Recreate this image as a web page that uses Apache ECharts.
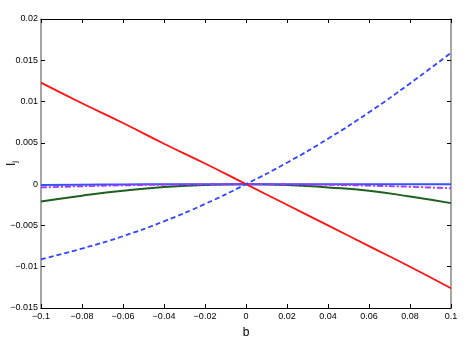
<!DOCTYPE html>
<html>
<head>
<meta charset="utf-8">
<script src="https://cdn.jsdelivr.net/npm/echarts@6/dist/echarts.min.js"></script>
<style>
html, body { margin: 0; padding: 0; background: #fff; }
#main { width: 469px; height: 340px; }
</style>
</head>
<body>
<div id="main"></div>
<script>
// b values
var bVals = [ -0.1, -0.08, -0.06, -0.04, -0.02, 0, 0.02, 0.04, 0.06, 0.08, 0.1 ];
// I_j curves
var redLine = [ 0.0123, 0.0098, 0.0074, 0.0049, 0.0025, 0, -0.0025, -0.0050, -0.0075, -0.0100, -0.0126 ];
var blueDash = [ -0.0091, -0.0078, -0.0063, -0.0045, -0.0024, 0, 0.0026, 0.0055, 0.0087, 0.0122, 0.0159 ];
var greenLine = [ -0.0021, -0.0014, -0.0008, -0.00035, -0.0001, 0, -0.0001, -0.0004, -0.0008, -0.0015, -0.0023 ];
var blueLine = [ -0.0001, -0.00006, -0.00003, -0.00001, 0, 0, 0, 0, 0, 0, 0 ];
var magentaDashDot = [ -0.0004, -0.00026, -0.00015, -0.00007, -0.00002, 0, -0.00002, -0.00008, -0.00018, -0.00032, -0.0005 ];

function pairs(ys) {
	return bVals.map(function (x, i) { return [ x, ys[i] ]; });
}
function fmt(v) {
	return String(v).replace('-', '\u2212');
}

var myChart = echarts.init(document.getElementById('main'));
var tick = { inside : true, length : 4, lineStyle : { color : '#000' } };
var hLine = { show : true, onZero : false, lineStyle : { color : '#000', width : 1 } };
var vLine = { show : true, onZero : false, lineStyle : { color : '#888', width : 1.5 } };
var option = {
	animation : false,
	textStyle : { fontFamily : 'Liberation Sans, Arial, sans-serif' },
	grid : { left : 41, right : 18, top : 19, bottom : 32, containLabel : false, outerBoundsMode : 'none' },
	xAxis : [ {
		type : 'value', min : -0.1, max : 0.1, interval : 0.02,
		name : 'b', nameLocation : 'middle', nameGap : 19, nameMoveOverlap : false,
		nameTextStyle : { fontSize : 12, color : '#000' },
		axisLine : hLine,
		axisTick : tick,
		axisLabel : { fontSize : 9, color : '#000', margin : 4, formatter : fmt },
		splitLine : { show : false }
	}, {
		type : 'value', min : -0.1, max : 0.1, interval : 0.02, position : 'top',
		axisLine : hLine,
		axisTick : tick,
		axisLabel : { show : false },
		splitLine : { show : false }
	} ],
	yAxis : [ {
		type : 'value', min : -0.015, max : 0.02, interval : 0.005,
		name : '{i|I}{j|j}', nameLocation : 'middle', nameGap : 22, nameRotate : 90, nameMoveOverlap : false,
		nameTextStyle : {
			rich : {
				i : { fontSize : 12, color : '#000' },
				j : { fontSize : 8, color : '#000', verticalAlign : 'bottom', padding : [ 6, 0, 0, 0 ] }
			}
		},
		axisLine : vLine,
		axisTick : tick,
		axisLabel : { fontSize : 9, color : '#000', margin : 3, formatter : fmt },
		splitLine : { show : false }
	}, {
		type : 'value', min : -0.015, max : 0.02, interval : 0.005, position : 'right',
		axisLine : vLine,
		axisTick : tick,
		axisLabel : { show : false },
		splitLine : { show : false }
	} ],
	series : [ {
		type : 'line', smooth : true, symbol : 'none', data : pairs(greenLine),
		lineStyle : { color : '#1f5f1f', width : 2 }
	}, {
		type : 'line', smooth : true, symbol : 'none', data : pairs(blueLine),
		lineStyle : { color : '#3355ff', width : 2 }
	}, {
		type : 'line', smooth : true, symbol : 'none', data : pairs(magentaDashDot),
		lineStyle : { color : '#aa33ff', width : 1.8, type : [ 6, 2, 2, 2 ] }
	}, {
		type : 'line', smooth : true, symbol : 'none', data : pairs(redLine),
		lineStyle : { color : '#ff1111', width : 1.8 }
	}, {
		type : 'line', smooth : true, symbol : 'none', data : pairs(blueDash),
		lineStyle : { color : '#3344ff', width : 1.8, type : [ 5, 3 ] }
	} ]
};
myChart.setOption(option);
</script>
</body>
</html>
